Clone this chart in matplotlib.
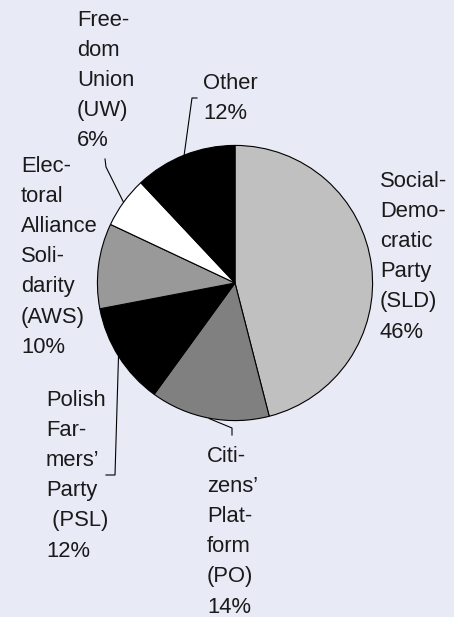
import matplotlib
matplotlib.use("Agg")
import matplotlib.pyplot as plt
from matplotlib.lines import Line2D
import numpy as np

# Wahlergebnis, Anteile in Prozent (im Uhrzeigersinn ab 12 Uhr)
parties = ["SLD", "PO", "PSL", "AWS", "UW", "Other"]
shares = [46, 14, 12, 10, 6, 12]
colors = ["#c0c0c0", "#808080", "#000000", "#999999", "#ffffff", "#000000"]
labels = [
    "Social-\nDemo-\ncratic\nParty\n(SLD)\n46%",
    "Citi-\nzens\u2019\nPlat-\nform\n(PO)\n14%",
    "Polish\nFar-\nmers\u2019\nParty\n (PSL)\n12%",
    "Elec-\ntoral\nAlliance\nSoli-\ndarity\n(AWS)\n10%",
    "Free-\ndom\nUnion\n(UW)\n6%",
    "Other\n12%",
]

W, H = 454, 617
bg = "#e8ebf6"
cx, cy, R = 235, 283, 138  # Kreis in Pixeln

# Textposition (links oben, Pixel) und Knick der Fuehrungslinie
label_pos = {
    "SLD": (380, 171),
    "PO": (207, 446),
    "PSL": (46, 390),
    "AWS": (21, 156),
    "UW": (77, 10),
    "Other": (203, 73),
}
leaders = {
    "PO": [(232, 428), (232, 435)],
    "PSL": [(115, 475), (106, 475)],
    "UW": [(106, 167), (105, 159)],
    "Other": [(192, 98), (197, 98)],
}

fig = plt.figure(figsize=(W / 100, H / 100), dpi=100, facecolor=bg)
ax = fig.add_axes([(cx - R) / W, (H - cy - R) / H, 2 * R / W, 2 * R / H])
ax.pie(
    shares,
    colors=colors,
    startangle=90,
    counterclock=False,
    radius=1,
    wedgeprops={"edgecolor": "black", "linewidth": 0.8},
)
ax.set_xlim(-1.003, 1.003)
ax.set_ylim(-1.003, 1.003)
ax.set_facecolor(bg)


def fx(x):
    return x / W


def fy(y):
    return 1 - y / H


# Labels
for name, text in zip(parties, labels):
    x, y = label_pos[name]
    fig.text(fx(x), fy(y), text, ha="left", va="top",
             fontsize=15.8, family="Liberation Sans", color="#1a1a1a",
             linespacing=1.57)

# Fuehrungslinien ab Mitte des Segments
cum = np.cumsum([0] + shares)
for i, name in enumerate(parties):
    if name not in leaders:
        continue
    mid = (cum[i] + cum[i + 1]) / 2 / sum(shares)
    ang = np.deg2rad(90 - 360 * mid)
    px = cx + R * np.cos(ang)
    py = cy - R * np.sin(ang)
    pts = [(px, py)] + leaders[name]
    xs = [fx(p[0]) for p in pts]
    ys = [fy(p[1]) for p in pts]
    fig.add_artist(Line2D(xs, ys, transform=fig.transFigure,
                          color="black", linewidth=0.8))

fig.savefig("out.png", dpi=100, facecolor=bg)
